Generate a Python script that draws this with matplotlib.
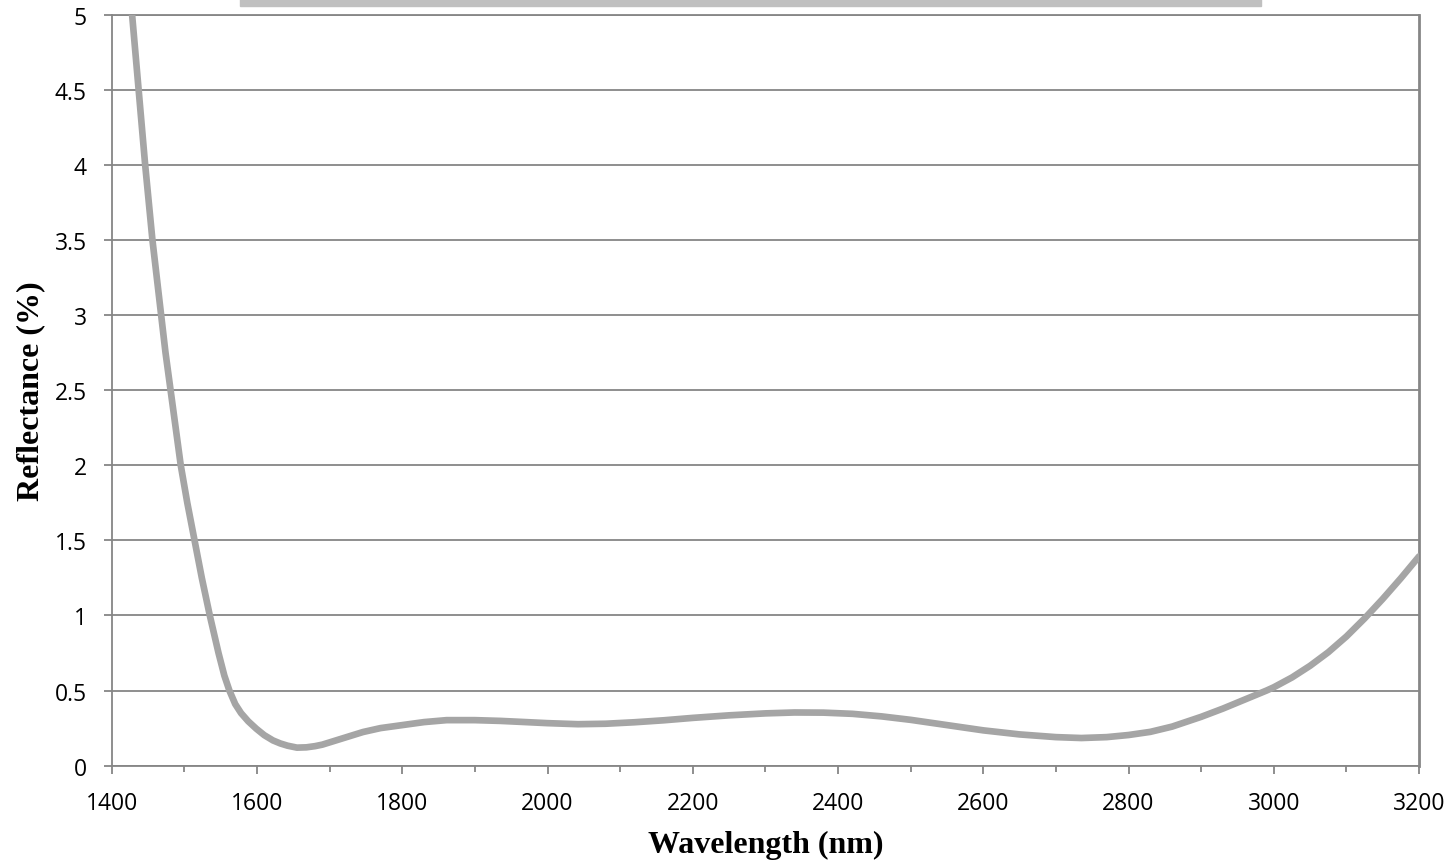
import numpy as np
from matplotlib import pyplot as plt
from matplotlib.patches import Rectangle
from matplotlib.ticker import MultipleLocator

# reflectance curve
wavelength = [1420, 1428, 1437, 1446, 1456, 1462, 1468, 1474, 1481, 1488,
              1495, 1504, 1514, 1524, 1535, 1547, 1555, 1562, 1570, 1578,
              1588, 1599, 1610, 1622, 1632, 1642, 1655, 1668, 1680, 1690,
              1700, 1720, 1746, 1770, 1800, 1830, 1861, 1900, 1935, 1970,
              2000, 2042, 2080, 2120, 2160, 2200, 2250, 2300, 2340, 2380,
              2420, 2460, 2500, 2550, 2600, 2650, 2700, 2735, 2770, 2800,
              2830, 2860, 2900, 2930, 2960, 2990, 3000, 3025, 3050, 3075,
              3100, 3125, 3150, 3175, 3200]
reflectance = [5.5, 5.0, 4.5, 4.0, 3.5, 3.25, 3.0, 2.75, 2.5, 2.25,
               2.0, 1.75, 1.5, 1.25, 1.0, 0.75, 0.6, 0.5, 0.41, 0.35,
               0.295, 0.246, 0.203, 0.168, 0.148, 0.133, 0.12, 0.122, 0.13, 0.14,
               0.155, 0.185, 0.224, 0.25, 0.27, 0.29, 0.303, 0.303, 0.298, 0.29,
               0.283, 0.276, 0.279, 0.289, 0.302, 0.318, 0.335, 0.348, 0.354, 0.353,
               0.345, 0.328, 0.305, 0.27, 0.235, 0.208, 0.19, 0.184, 0.19, 0.204,
               0.225, 0.26, 0.325, 0.38, 0.44, 0.5, 0.522, 0.587, 0.665, 0.755,
               0.86, 0.98, 1.11, 1.248, 1.393]

x_ticks = [1400, 1600, 1800, 2000, 2200, 2400, 2600, 2800, 3000, 3200]
y_ticks = [0, 0.5, 1, 1.5, 2, 2.5, 3, 3.5, 4, 4.5, 5]

grid_c = '#868686'
line_c = '#a5a5a5'

fig = plt.figure(figsize=(14.55, 8.62), dpi=100)
ax = fig.add_axes([0.0768, 0.1106, 0.8985, 0.8714])

ax.plot(wavelength, reflectance, color=line_c, lw=4.8,
        solid_capstyle='round', solid_joinstyle='round', zorder=3)

ax.set_xlim(1400, 3200)
ax.set_ylim(0, 5)
ax.set_xticks(x_ticks)
ax.set_yticks(y_ticks)
ax.set_yticklabels([f"{v:g}" for v in y_ticks])
ax.xaxis.set_minor_locator(MultipleLocator(100))
ax.yaxis.grid(True, color=grid_c, lw=1.3)
ax.set_axisbelow(True)

for s in ax.spines.values():
    s.set_color(grid_c)
    s.set_linewidth(1.3)
ax.spines['right'].set_linewidth(2)

ax.tick_params(axis='both', which='major', direction='out', length=6, width=1.3,
               color=grid_c, pad=12)
ax.tick_params(axis='x', which='minor', direction='out', length=4, width=1.3, color=grid_c)
for lab in ax.get_xticklabels() + ax.get_yticklabels():
    lab.set_fontfamily('Open Sans')
    lab.set_fontsize(16.5)

ax.set_xlabel("Wavelength (nm)", family='Liberation Serif', weight='bold', fontsize=23, labelpad=11)
ax.set_ylabel("Reflectance (%)", family='Liberation Serif', weight='bold', fontsize=23, labelpad=7)

# cropped legend bar at the top edge
fig.patches.append(Rectangle((240 / 1455, 1 - 7.3 / 862), 1021 / 1455, 7.3 / 862,
                             transform=fig.transFigure, color='#c0c0c0', zorder=0))

fig.savefig('out.png', dpi=100)
